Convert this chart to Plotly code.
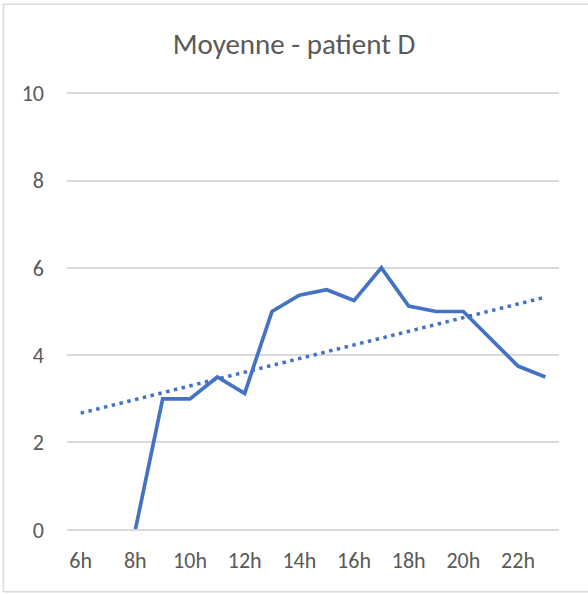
import numpy as np
import plotly.graph_objects as go

hours = ["6h", "7h", "8h", "9h", "10h", "11h", "12h", "13h", "14h", "15h",
         "16h", "17h", "18h", "19h", "20h", "21h", "22h", "23h"]
moyenne = [None, None, 0, 3, 3, 3.5, 3.125, 5, 5.375, 5.5,
           5.25, 6, 5.125, 5, 5, 4.375, 3.75, 3.5]
tick_labels = hours[::2]
y_ticks = [0, 2, 4, 6, 8, 10]
title = "Moyenne - patient D"

# Linear trendline (Excel-style) over category index
idx = np.arange(len(hours))
mask = np.array([v is not None for v in moyenne])
yv = np.array([v if v is not None else np.nan for v in moyenne], dtype=float)
slope, intercept = np.polyfit(idx[mask], yv[mask], 1)
trend = slope * idx + intercept

blue = "#4472C4"
grid = "#D9D9D9"
W, H = 588, 594
ext = 0.05
ml, mr, mt, mb = 67, 29.4, 91.3, 61.8
pw, ph = W - ml - mr, H - mt - mb

def px_x(p):
    return (p - ml) / pw

def px_y(p):
    return (H - mb - p) / ph

fig = go.Figure()
fig.add_trace(go.Scatter(x=hours, y=trend, mode="lines",
                         line=dict(color=blue, width=3.5, dash="3.5px,4.5px"),
                         hoverinfo="skip", showlegend=False))
fig.add_trace(go.Scatter(x=hours, y=moyenne, mode="lines",
                         line=dict(color=blue, width=3.7),
                         connectgaps=False, showlegend=False, name="Moyenne"))

shapes = [dict(type="rect", xref="paper", yref="paper",
               x0=px_x(3.5), x1=px_x(592), y0=px_y(592), y1=px_y(4.5),
               line=dict(color=grid, width=1.5), fillcolor="rgba(0,0,0,0)",
               layer="below")]
# bottom grid line drawn explicitly (plotly hides gridlines at the range edges)
shapes.append(dict(type="line", xref="x", yref="y",
                   x0=-0.5, x1=len(hours) - 0.5, y0=y_ticks[0], y1=y_ticks[0],
                   line=dict(color=grid, width=1.6), layer="above"))

fig.update_layout(
    width=W, height=H,
    margin=dict(l=ml, r=mr, t=mt, b=mb, pad=0),
    paper_bgcolor="white", plot_bgcolor="rgba(0,0,0,0)",
    font=dict(family="Carlito, Lato, Open Sans, sans-serif", color="#595959", size=22),
    title=dict(text=title, x=0.5, xanchor="center", y=1 - 44 / H, yanchor="middle",
               font=dict(size=29, color="#595959")),
    xaxis=dict(type="category", categoryorder="array", categoryarray=hours,
               range=[-0.5, len(hours) - 0.5], tickvals=tick_labels,
               showgrid=False, zeroline=False, showline=False, ticks="",
               ticklabelstandoff=13),
    yaxis=dict(range=[-ext, 10 + ext], tickvals=y_ticks, showgrid=True,
               gridcolor=grid, gridwidth=1.5, zeroline=False,
               showline=False, ticks="", ticklabelstandoff=22),
    shapes=shapes,
)

fig.write_html("out.html", config={"displayModeBar": False},
               post_script="document.body.style.margin='0px';")
